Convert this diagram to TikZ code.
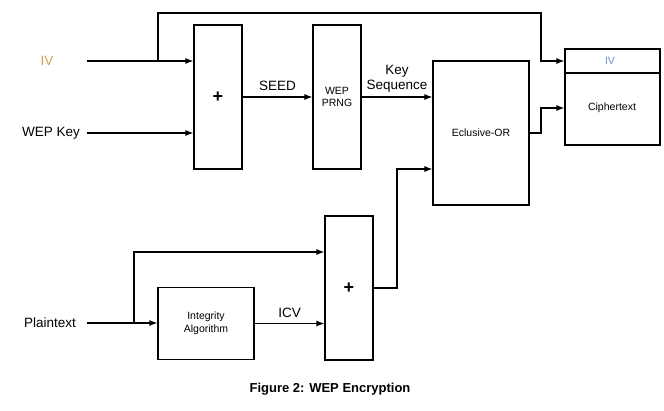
\documentclass[tikz,border=0pt]{standalone}
\usepackage{fontspec}
\setmainfont{Liberation Sans}
\usetikzlibrary{arrows.meta}
\definecolor{ivorange}{RGB}{215,160,80}
\definecolor{ivblue}{RGB}{110,140,215}
\begin{document}
\begin{tikzpicture}[x=1pt,y=-1pt,line width=1.2pt,
  blk/.style={draw,line width=1.1pt,inner sep=0pt,align=center},
  tall/.style={blk,minimum width=48pt,minimum height=144pt},
  lbl/.style={font=\fontsize{13.5}{15}\selectfont,inner sep=0pt,align=center},
  sml/.style={font=\fontsize{10.5}{12.5}\selectfont},
  arr/.style={-{Latex[length=8pt,width=6pt]}}]
\useasboundingbox (0,0) rectangle (664,410);
% blocks
\node[tall,font=\fontsize{18}{18}\selectfont\bfseries] (b1) at (218,97) {+};
\node[tall,sml] (b2) at (337,97) {WEP\\PRNG};
\node[blk,sml,minimum width=96pt,minimum height=144pt] (xor) at (481,133) {Eclusive-OR};
\node[blk,minimum width=95pt,minimum height=96pt] (ct) at (612.5,97) {};
\node[tall,font=\fontsize{18}{18}\selectfont\bfseries] (b3) at (349,288) {+};
\node[blk,sml,minimum width=96pt,minimum height=72pt] (ia) at (206,323.5) {Integrity\\Algorithm};
\draw[line width=1.1pt] (ct.west |- 0,73) -- (ct.east |- 0,73);
\node[sml,text=ivblue,inner sep=0pt] (civ) at (610,61) {IV};
\node[sml,inner sep=0pt] (ctx) at (612,108) {Ciphertext};
% input labels
\node[lbl,text=ivorange] (iv) at (47,61) {IV};
\node[lbl] (wk) at (51,133) {WEP Key};
\node[lbl] (pt) at (50,323) {Plaintext};
% coordinates
\coordinate (ivs) at (87,61);
\coordinate (wks) at (87,133);
\coordinate (pts) at (87,323);
\coordinate (br1) at (158,61);
\coordinate (tr) at (541,13);
\coordinate (c1) at (397,169);
\coordinate (c2) at (541,108);
\coordinate (br2) at (134,323);
\coordinate (c3) at (134,252);
% connectors
\draw[arr] (ivs) -- (ivs -| b1.west);
\draw[arr] (br1) |- (tr) |- (ct.west |- ivs);
\draw[arr] (wks) -- (wks -| b1.west);
\draw[arr] (b1.east) -- node[lbl,above=6pt] (seed) {SEED} (b2.west);
\draw[arr] (b2.east) -- node[lbl,above=4pt] (ks) {Key\\Sequence} (b2.east -| xor.west);
\draw[arr] (b3.east) -| (c1) -- (c1 -| xor.west);
\draw[arr] (xor.east) -| (c2) -- (c2 -| ct.west);
\draw[arr] (pts) -- (pts -| ia.west);
\draw[arr] (br2) -- (c3) -- (c3 -| b3.west);
\draw[arr] (ia.east) -- node[lbl,above=5pt] (icv) {ICV} (ia.east -| b3.west);
% caption
\node[lbl,font=\fontsize{13}{15}\selectfont\bfseries] (cap) at (330,389) {Figure 2: WEP Encryption};
\end{tikzpicture}
\end{document}
